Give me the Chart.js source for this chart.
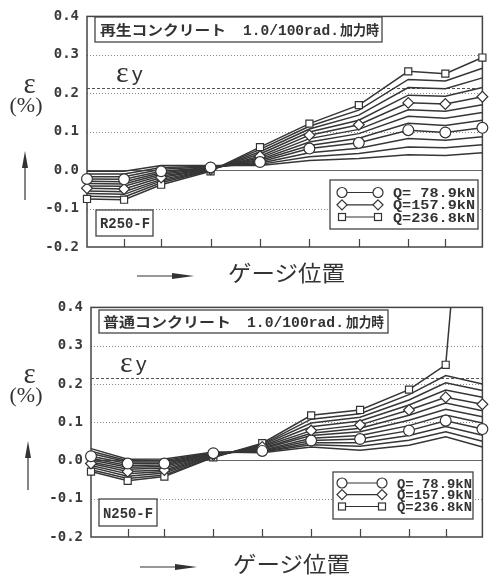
<!DOCTYPE html>
<html><head><meta charset="utf-8">
<script src="https://cdn.jsdelivr.net/npm/chart.js@4.4.1/dist/chart.umd.min.js"></script>
<style>
html,body{margin:0;padding:0;background:#fff;}
body{width:489px;height:582px;position:relative;overflow:hidden;}
canvas{position:absolute;left:0;}
#ov{position:absolute;left:0;top:0;pointer-events:none;}
.jp{font-family:'Noto Sans CJK JP';}
.mono{font-family:'Liberation Mono';font-weight:bold;}
</style></head><body>
<canvas id="cA" width="489" height="290" style="top:0;width:489px;height:290px"></canvas>
<canvas id="cB" width="489" height="290" style="top:291px;width:489px;height:290px"></canvas>
<svg id="ov" width="489" height="582" xmlns="http://www.w3.org/2000/svg">
 <g fill="#333" stroke="none">
  <!-- top panel -->
  <rect x="95" y="17" width="287" height="25" fill="#fff" stroke="#444" stroke-width="1.3"/>
  <text class="jp" x="100" y="35" font-size="14" font-weight="bold" textLength="126" lengthAdjust="spacingAndGlyphs">再生コンクリート</text>
  <text class="mono" x="243" y="35" font-size="14" font-weight="normal" textLength="96" lengthAdjust="spacingAndGlyphs">1.0/100rad.</text>
  <text class="jp" x="340" y="35" font-size="14" font-weight="bold" textLength="39" lengthAdjust="spacingAndGlyphs">加力時</text>
  <text x="116" y="82" font-family="Liberation Serif" font-size="30">ε</text>
  <text x="132" y="81" font-family="Liberation Sans" font-size="21">y</text>
  <rect x="96" y="210" width="57" height="26" fill="#fff" stroke="#444" stroke-width="1.3"/>
  <text class="mono" x="100" y="228" font-size="14" textLength="50" lengthAdjust="spacingAndGlyphs">R250-F</text>
  <text x="29.5" y="93" font-family="Liberation Serif" font-size="29" text-anchor="middle">ε</text>
  <text x="26" y="112" font-family="Liberation Serif" font-size="22" text-anchor="middle">(%)</text>
  <line x1="25" y1="200" x2="25" y2="160" stroke="#333" stroke-width="1.2"/>
  <polygon points="25,151 22,168 28,168"/>
  <line x1="137" y1="276" x2="178" y2="276" stroke="#333" stroke-width="1.2"/>
  <polygon points="194,276 172,273 172,279"/>
  <text class="jp" x="228" y="281" font-size="22" textLength="117" lengthAdjust="spacingAndGlyphs">ゲージ位置</text>
  <rect x="330" y="180" width="148" height="49" fill="#fff" stroke="#444" stroke-width="1.3"/>
  <g stroke="#333" stroke-width="1.2" fill="#fff">
   <line x1="342" y1="192.5" x2="378" y2="192.5"/>
   <circle cx="342" cy="192.5" r="5"/><circle cx="378" cy="192.5" r="5"/>
   <line x1="342" y1="204.8" x2="378" y2="204.8"/>
   <polygon points="342,199.8 347,204.8 342,209.8 337,204.8"/><polygon points="378,199.8 383,204.8 378,209.8 373,204.8"/>
   <line x1="342" y1="217" x2="378" y2="217"/>
   <rect x="338.5" y="213.5" width="7" height="7"/><rect x="374.5" y="213.5" width="7" height="7"/>
  </g>
  <text class="mono" x="393" y="197" font-size="13" textLength="82" lengthAdjust="spacingAndGlyphs" xml:space="preserve">Q= 78.9kN</text>
  <text class="mono" x="393" y="209.3" font-size="13" textLength="82" lengthAdjust="spacingAndGlyphs">Q=157.9kN</text>
  <text class="mono" x="393" y="221.5" font-size="13" textLength="82" lengthAdjust="spacingAndGlyphs">Q=236.8kN</text>

  <!-- bottom panel -->
  <rect x="99" y="310" width="289" height="23" fill="#fff" stroke="#444" stroke-width="1.3"/>
  <text class="jp" x="103" y="327" font-size="14" font-weight="bold" textLength="128" lengthAdjust="spacingAndGlyphs">普通コンクリート</text>
  <text class="mono" x="247" y="327" font-size="14" font-weight="normal" textLength="97" lengthAdjust="spacingAndGlyphs">1.0/100rad.</text>
  <text class="jp" x="346" y="327" font-size="14" font-weight="bold" textLength="38" lengthAdjust="spacingAndGlyphs">加力時</text>
  <text x="120" y="372" font-family="Liberation Serif" font-size="30">ε</text>
  <text x="136" y="371" font-family="Liberation Sans" font-size="21">y</text>
  <rect x="99" y="499" width="58" height="27" fill="#fff" stroke="#444" stroke-width="1.3"/>
  <text class="mono" x="103" y="518" font-size="14" textLength="50" lengthAdjust="spacingAndGlyphs">N250-F</text>
  <text x="29.5" y="383" font-family="Liberation Serif" font-size="29" text-anchor="middle">ε</text>
  <text x="26" y="402" font-family="Liberation Serif" font-size="22" text-anchor="middle">(%)</text>
  <line x1="28" y1="490" x2="28" y2="450" stroke="#333" stroke-width="1.2"/>
  <polygon points="28,441 25,458 31,458"/>
  <line x1="140" y1="567" x2="181" y2="567" stroke="#333" stroke-width="1.2"/>
  <polygon points="197,567 175,564 175,570"/>
  <text class="jp" x="233" y="572" font-size="22" textLength="117" lengthAdjust="spacingAndGlyphs">ゲージ位置</text>
  <rect x="333" y="472" width="140" height="47" fill="#fff" stroke="#444" stroke-width="1.3"/>
  <g stroke="#333" stroke-width="1.2" fill="#fff">
   <line x1="342" y1="483" x2="382" y2="483"/>
   <circle cx="342" cy="483" r="5"/><circle cx="382" cy="483" r="5"/>
   <line x1="342" y1="494.6" x2="382" y2="494.6"/>
   <polygon points="342,489.6 347,494.6 342,499.6 337,494.6"/><polygon points="382,489.6 387,494.6 382,499.6 377,494.6"/>
   <line x1="342" y1="506.5" x2="382" y2="506.5"/>
   <rect x="338.5" y="503" width="7" height="7"/><rect x="378.5" y="503" width="7" height="7"/>
  </g>
  <text class="mono" x="397" y="487.5" font-size="13" textLength="75" lengthAdjust="spacingAndGlyphs" xml:space="preserve">Q= 78.9kN</text>
  <text class="mono" x="397" y="499" font-size="13" textLength="75" lengthAdjust="spacingAndGlyphs">Q=157.9kN</text>
  <text class="mono" x="397" y="511" font-size="13" textLength="75" lengthAdjust="spacingAndGlyphs">Q=236.8kN</text>
 </g>
</svg>
<script>
// ---- data ----
const gaugePos = [0, 75, 150, 250, 350, 450, 550, 650, 725, 800];
const loadSteps = [19.7, 39.5, 59.2, 78.9, 98.7, 118.4, 138.1, 157.9, 177.6, 197.3, 217.1, 236.8];
const yTickValues = [0.4, 0.3, 0.2, 0.1, 0.0, -0.1, -0.2];
const yTickLabels = ['0.4', '0.3', '0.2', '0.1', '0.0', '-0.1', '-0.2'];
const epsYTop = 0.213;
const epsYBottom = 0.215;

// R250-F (recycled concrete)
const R250_Q019 = [-0.003, -0.003, 0.012, 0.012, 0.012, 0.025, 0.030, 0.040, 0.038, 0.045];
const R250_Q039 = [-0.010, -0.010, 0.007, 0.010, 0.015, 0.035, 0.043, 0.060, 0.058, 0.066];
const R250_Q059 = [-0.017, -0.017, 0.002, 0.009, 0.018, 0.045, 0.057, 0.082, 0.078, 0.087];
const R250_Q079 = [-0.023, -0.024, -0.003, 0.007, 0.021, 0.056, 0.071, 0.104, 0.098, 0.110];
const R250_Q099 = [-0.029, -0.030, -0.007, 0.006, 0.025, 0.064, 0.083, 0.122, 0.116, 0.130];
const R250_Q118 = [-0.035, -0.036, -0.011, 0.004, 0.028, 0.073, 0.095, 0.140, 0.135, 0.150];
const R250_Q138 = [-0.041, -0.042, -0.015, 0.003, 0.032, 0.082, 0.106, 0.157, 0.153, 0.170];
const R250_Q158 = [-0.047, -0.049, -0.019, 0.002, 0.036, 0.091, 0.118, 0.175, 0.172, 0.191];
const R250_Q178 = [-0.054, -0.056, -0.024, 0.001, 0.042, 0.099, 0.130, 0.195, 0.192, 0.215];
const R250_Q197 = [-0.061, -0.063, -0.028, 0.000, 0.048, 0.107, 0.143, 0.215, 0.212, 0.240];
const R250_Q217 = [-0.068, -0.070, -0.033, -0.001, 0.054, 0.114, 0.156, 0.236, 0.232, 0.265];
const R250_Q237 = [-0.075, -0.077, -0.038, -0.003, 0.060, 0.121, 0.169, 0.257, 0.251, 0.293];

// N250-F (normal concrete)
const N250_Q019 = [0.031, 0.003, 0.004, 0.022, 0.020, 0.035, 0.027, 0.040, 0.062, 0.035];
const N250_Q039 = [0.024, -0.001, 0.000, 0.021, 0.022, 0.041, 0.037, 0.053, 0.075, 0.050];
const N250_Q059 = [0.018, -0.004, -0.004, 0.020, 0.023, 0.046, 0.046, 0.065, 0.089, 0.066];
const N250_Q079 = [0.011, -0.008, -0.008, 0.019, 0.025, 0.052, 0.056, 0.078, 0.104, 0.082];
const N250_Q099 = [0.006, -0.013, -0.012, 0.018, 0.027, 0.058, 0.065, 0.091, 0.119, 0.098];
const N250_Q118 = [0.001, -0.018, -0.016, 0.017, 0.030, 0.065, 0.075, 0.105, 0.134, 0.114];
const N250_Q138 = [-0.004, -0.023, -0.020, 0.015, 0.032, 0.071, 0.084, 0.118, 0.150, 0.130];
const N250_Q158 = [-0.008, -0.029, -0.025, 0.014, 0.035, 0.078, 0.093, 0.132, 0.165, 0.147];
const N250_Q178 = [-0.013, -0.035, -0.029, 0.012, 0.037, 0.088, 0.103, 0.145, 0.184, 0.165];
const N250_Q197 = [-0.018, -0.041, -0.033, 0.011, 0.040, 0.098, 0.113, 0.158, 0.203, 0.183];
const N250_Q217 = [-0.024, -0.047, -0.038, 0.009, 0.042, 0.108, 0.122, 0.172, 0.222, 0.200];
const N250_Q237 = [-0.029, -0.053, -0.042, 0.008, 0.045, 0.118, 0.132, 0.185, 0.250, 1.350];

const R250_series = [R250_Q019, R250_Q039, R250_Q059, R250_Q079, R250_Q099, R250_Q118, R250_Q138, R250_Q158, R250_Q178, R250_Q197, R250_Q217, R250_Q237];
const N250_series = [N250_Q019, N250_Q039, N250_Q059, N250_Q079, N250_Q099, N250_Q118, N250_Q138, N250_Q158, N250_Q178, N250_Q197, N250_Q217, N250_Q237];
// marked load steps: 78.9 circle, 157.9 diamond, 236.8 square
const markerFor = {3: {style: 'circle', r: 5.4}, 7: {style: 'rectRot', r: 5.4}, 11: {style: 'rect', r: 5}};

// ---- drawing ----
const framePlugin = {
  id: 'frame',
  beforeDatasetsDraw(chart, args, opts) {
    const {ctx, chartArea: a, scales: {x, y}} = chart;
    ctx.save();
    ctx.lineWidth = 1;
    ctx.strokeStyle = '#888';
    ctx.setLineDash([1, 2]);
    yTickValues.forEach(v => {
      if (v === 0 || v === y.max || v === y.min) return;
      const py = Math.round(y.getPixelForValue(v)) + 0.5;
      ctx.beginPath(); ctx.moveTo(a.left, py); ctx.lineTo(a.right, py); ctx.stroke();
    });
    ctx.strokeStyle = '#555';
    ctx.setLineDash([3, 2]);
    const pe = Math.round(y.getPixelForValue(opts.epsY)) + 0.5;
    ctx.beginPath(); ctx.moveTo(a.left, pe); ctx.lineTo(a.right, pe); ctx.stroke();
    ctx.setLineDash([]);
    ctx.strokeStyle = '#666';
    const p0 = Math.round(y.getPixelForValue(0)) + 0.5;
    ctx.beginPath(); ctx.moveTo(a.left, p0); ctx.lineTo(a.right, p0); ctx.stroke();
    ctx.strokeStyle = '#444';
    ctx.lineWidth = 1.2;
    gaugePos.slice(1, -1).forEach(v => {
      const px = Math.round(x.getPixelForValue(v)) + 0.5;
      ctx.beginPath(); ctx.moveTo(px, a.bottom); ctx.lineTo(px, a.bottom - 8); ctx.stroke();
    });
    ctx.lineWidth = 1.5;
    ctx.strokeStyle = '#444';
    ctx.strokeRect(a.left, a.top, a.right - a.left, a.bottom - a.top);
    ctx.restore();
  }
};

function makeChart(id, series, epsY, yWidth, padRight, padBottom) {
  const datasets = series.map((vals, i) => {
    const m = markerFor[i];
    return {
      label: 'Q=' + loadSteps[i] + 'kN',
      data: vals.map((v, j) => ({x: gaugePos[j], y: v})),
      borderColor: '#363636',
      borderWidth: 1.5,
      pointRadius: m ? m.r : 0,
      pointStyle: m ? m.style : 'circle',
      pointBackgroundColor: '#fff',
      pointBorderColor: '#333',
      pointBorderWidth: 1.2,
      tension: 0,
      order: m ? 0 : 1,
      clip: {left: 8, right: 8, top: 0, bottom: 8}
    };
  });
  return new Chart(document.getElementById(id), {
    type: 'line',
    data: {datasets},
    plugins: [framePlugin],
    options: {
      responsive: false,
      animation: false,
      events: [],
      layout: {padding: {left: 0, right: padRight, top: 12, bottom: padBottom}},
      plugins: {legend: {display: false}, tooltip: {enabled: false}, frame: {epsY}},
      scales: {
        x: {type: 'linear', min: 0, max: 800, display: false},
        y: {
          type: 'linear', min: -0.2, max: 0.4,
          afterBuildTicks(s) { s.ticks = yTickValues.map(v => ({value: v})); },
          afterFit(s) { s.width = yWidth; },
          ticks: {
            callback: (v, i) => yTickLabels[i],
            font: {family: 'DejaVu Sans Mono', weight: 'bold', size: 14},
            color: '#3a3a3a',
            padding: 8
          },
          grid: {display: false, drawTicks: false},
          border: {display: false}
        }
      }
    }
  });
}

makeChart('cA', R250_series, epsYTop, 87, 6, 43);
makeChart('cB', N250_series, epsYBottom, 91, 3, 44);
</script>
</body></html>
